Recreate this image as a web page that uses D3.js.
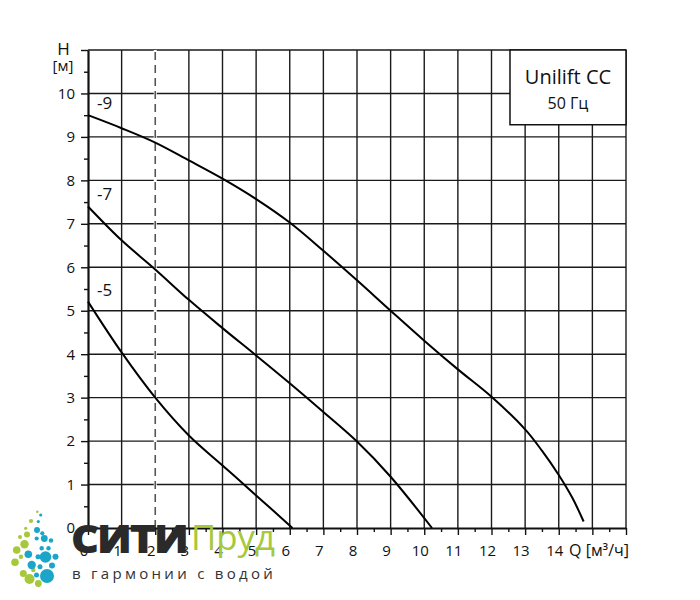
<!DOCTYPE html>
<html><head><meta charset="utf-8">
<script src="https://cdn.jsdelivr.net/npm/d3@7"></script>
<style>body{margin:0;background:#fff}svg{display:block}text{font-family:"Open Sans","Noto Sans",sans-serif}</style>
</head><body><svg id="c" width="700" height="600"></svg>
<script>
// ---- data ----
const xTicks = [0,1,2,3,4,5,6,7,8,9,10,11,12,13,14];
const yTicks = [0,1,2,3,4,5,6,7,8,9,10];
const curveNames = ["-9","-7","-5"];
const q9 = [0,1,2,3,4,5,6,7,8,9,10,11,12,13,13.5,14,14.4,14.74];
const h9 = [9.5,9.2,8.87,8.46,8.04,7.57,7.03,6.38,5.7,5.0,4.31,3.65,3.02,2.27,1.78,1.22,0.7,0.15];
const q7 = [0,1,2,3,4,5,6,7,8,9,10.23];
const h7 = [7.4,6.62,5.95,5.25,4.6,3.97,3.33,2.67,1.99,1.18,0];
const q5 = [0,1,2,3,4,5,6.08];
const h5 = [5.21,4.04,3.0,2.13,1.44,0.75,0];
const dashedQ = 2;
const legendTitle = "Unilift CC";
const legendSub = "50 Гц";
const logoGreen = [[37.3,511.7,1.3],[31,521,2.1],[25.7,528.3,1.6],[27,534.5,3],[20,537,2],[16.7,550,3.8],[24.5,544.3,4.2],[15,562.3,3.8],[21,556.7,2.2],[23.3,573.5,3.5],[29.5,579,5],[38.3,583.5,3.4],[33.3,570,2.2]];
const logoBlue = [[40.7,515,1.6],[38.3,521.5,1.6],[37,530,3],[42.3,533.3,2.1],[44.3,538.5,3.4],[36.7,538.5,2.1],[51,540.5,2.2],[41.7,548.3,2.2],[48.5,548.3,2.2],[28.3,554.3,3.8],[38,556.7,2.5],[45.5,557,5.8],[55.5,556.7,3],[31.7,565,4.2],[40,566.7,2.5],[52,565.5,3],[47,576,7],[36.5,575,2.5]];

// ---- layout ----
const W=700,H=600, m={l:88,r:74,t:50,b:72};
const svg=d3.select("#c");
const x=d3.scaleLinear().domain([0,16]).range([m.l,W-m.r]);
const y=d3.scaleLinear().domain([0,11]).range([H-m.b,m.t]);
const gridCol="#1a1a1a";

// grid
const g=svg.append("g");
g.selectAll(".vg").data(d3.range(1,17)).join("line")
 .attr("x1",d=>x(d)).attr("x2",d=>x(d)).attr("y1",y(0)).attr("y2",y(11))
 .attr("stroke",gridCol).attr("stroke-width",1.4);
g.selectAll(".hg").data(d3.range(1,12)).join("line")
 .attr("x1",x(0)).attr("x2",x(16)).attr("y1",d=>y(d)).attr("y2",d=>y(d))
 .attr("stroke",gridCol).attr("stroke-width",1.4);

// dashed line
svg.append("line").attr("x1",x(dashedQ)).attr("x2",x(dashedQ)).attr("y1",y(0)).attr("y2",y(11))
 .attr("stroke","#fff").attr("stroke-width",3);
svg.append("line").attr("x1",x(dashedQ)).attr("x2",x(dashedQ)).attr("y1",y(0)).attr("y2",y(11))
 .attr("stroke","#555").attr("stroke-width",1.6).attr("stroke-dasharray","8,5");

// axes
const xAx=svg.append("g").attr("transform",`translate(0,${y(0)})`)
 .call(d3.axisBottom(x).tickValues(d3.range(0,16.01,0.5)).tickSize(0).tickFormat(""));
xAx.select(".domain").attr("stroke","#111").attr("stroke-width",2.2);
xAx.selectAll(".tick line").attr("y2",d=>Number.isInteger(d)?7:4).attr("stroke","#111").attr("stroke-width",1.4);
xAx.selectAll(".tl").data(xTicks).join("text").attr("x",d=>x(d)-4).attr("y",28)
 .attr("text-anchor","middle").attr("font-size",15).attr("fill","#111").text(d=>d);
xAx.append("text").attr("x",x(16)+3).attr("y",28).attr("text-anchor","end").attr("fill","#111")
 .attr("font-size",16).text("Q [м³/ч]");

const yAx=svg.append("g").attr("transform",`translate(${x(0)},0)`)
 .call(d3.axisLeft(y).tickValues(d3.range(0,11.01,0.5)).tickSize(0).tickFormat(""));
yAx.select(".domain").attr("stroke","#111").attr("stroke-width",2.2);
yAx.selectAll(".tick line").attr("x2",d=>Number.isInteger(d)?-7:-4).attr("stroke","#111").attr("stroke-width",1.4);
yAx.selectAll(".tl").data(yTicks).join("text").attr("x",-13).attr("y",d=>y(d)).attr("dy","0.36em")
 .attr("text-anchor","end").attr("font-size",15).attr("fill","#111").text(d=>d);
svg.append("text").attr("x",63.5).attr("y",55).attr("text-anchor","middle").attr("font-size",17).attr("fill","#111").text("H");
svg.append("text").attr("x",63).attr("y",71).attr("text-anchor","middle").attr("font-size",15).attr("fill","#111").text("[м]");

// curves
const line=d3.line().x(d=>x(d[0])).y(d=>y(d[1])).curve(d3.curveCatmullRom.alpha(0.5));
const series=[[q9,h9],[q7,h7],[q5,h5]];
series.forEach((s,i)=>{
  const pts=s[0].map((q,j)=>[q,s[1][j]]);
  svg.append("path").attr("d",line(pts)).attr("fill","none").attr("stroke","#000").attr("stroke-width",2);
  svg.append("text").attr("x",x(0)+9).attr("y",y(s[1][0])-6).attr("font-size",17).attr("fill","#111").text(curveNames[i]);
});

// legend box
svg.append("rect").attr("x",x(12.55)).attr("y",y(11)).attr("width",x(16)-x(12.55)).attr("height",y(9.28)-y(11))
 .attr("fill","#fff").attr("stroke","#111").attr("stroke-width",1.5);
const lcx=(x(12.55)+x(16))/2;
svg.append("text").attr("x",lcx).attr("y",y(11)+34).attr("text-anchor","middle").attr("font-size",20).attr("fill","#111").text(legendTitle);
svg.append("text").attr("x",lcx).attr("y",y(11)+59).attr("text-anchor","middle").attr("font-size",16).attr("fill","#111").text(legendSub);

// logo
const lg=svg.append("g");
lg.selectAll(".gd").data(logoGreen).join("circle").attr("cx",d=>d[0]).attr("cy",d=>d[1]).attr("r",d=>d[2]).attr("fill","#a6c83a");
lg.selectAll(".bd").data(logoBlue).join("circle").attr("cx",d=>d[0]).attr("cy",d=>d[1]).attr("r",d=>d[2]).attr("fill","#1ba6c9");
lg.append("text").attr("x",72).attr("y",552).attr("font-size",35).attr("font-weight",700)
 .attr("font-family","'DejaVu Sans',sans-serif").attr("fill","#2a2a2a").attr("stroke","#2a2a2a").attr("stroke-width",2.2)
 .text("СИТИ").attr("textLength",116).attr("lengthAdjust","spacingAndGlyphs");
lg.append("text").attr("x",191).attr("y",550).attr("font-size",35).attr("font-weight",400)
 .attr("fill","#a6c83a").text("Пруд").attr("textLength",84).attr("lengthAdjust","spacingAndGlyphs");
lg.append("text").attr("x",72).attr("y",579).attr("font-size",15).attr("letter-spacing",2.2)
 .attr("fill","#333").text("в гармонии с водой").attr("textLength",203).attr("lengthAdjust","spacing");
</script></body></html>
